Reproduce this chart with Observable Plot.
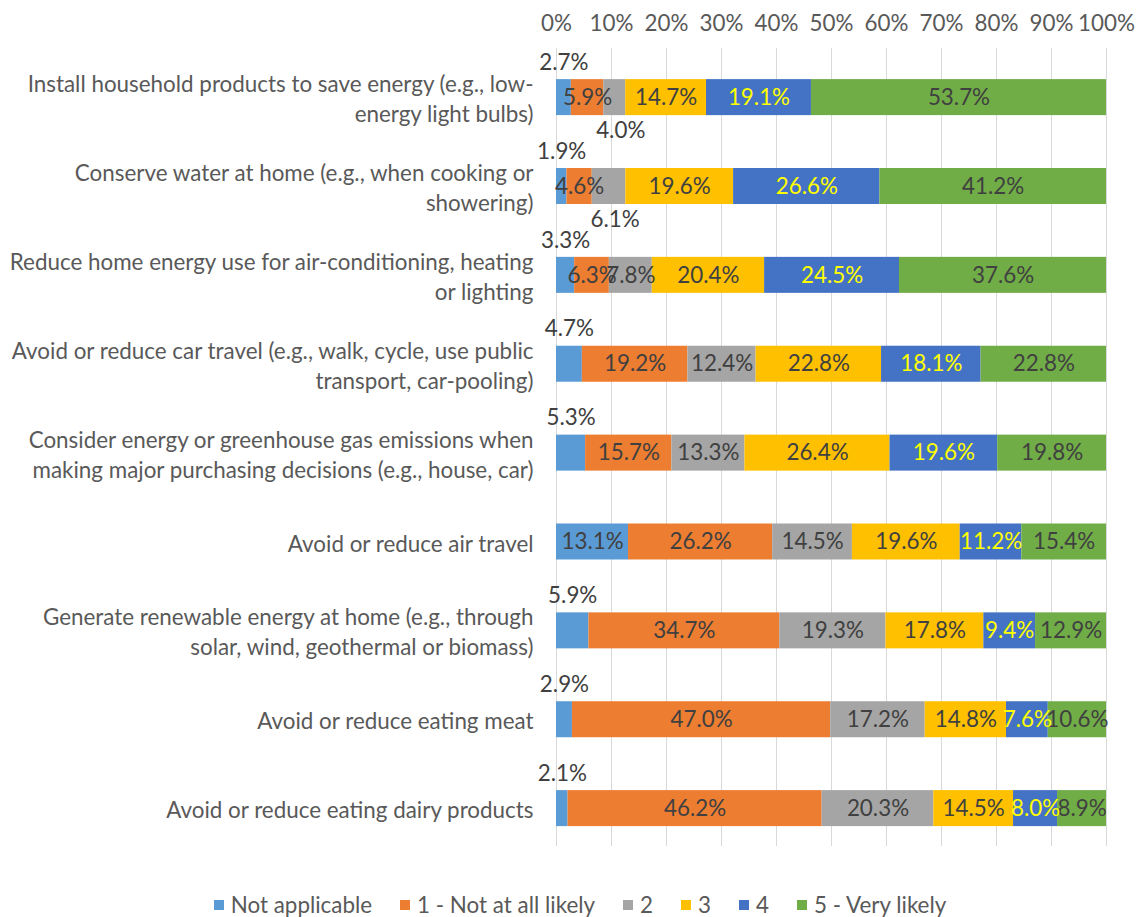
<!DOCTYPE html>
<html>
<head>
<meta charset="utf-8">
<script src="https://cdn.jsdelivr.net/npm/d3@7"></script>
<script src="https://cdn.jsdelivr.net/npm/@observablehq/plot@0.6"></script>
<style>
  body { margin: 0; background: #fff; }
  #chart svg { display: block; }
  #legend { display: flex; justify-content: center; gap: 28px; font-family: Lato, sans-serif; font-size: 22.4px; color: #595959; margin-top: 19px; padding-left: 14px; }
  #legend .item { display: flex; align-items: center; }
  #legend .sw { width: 10px; height: 10px; margin-right: 7px; display: inline-block; }
</style>
</head>
<body>
<div id="chart"></div>
<div id="legend"></div>
<script>
const categories = [
  "Install household products to save energy (e.g., low-energy light bulbs)",
  "Conserve water at home (e.g., when cooking or showering)",
  "Reduce home energy use for air-conditioning, heating or lighting",
  "Avoid or reduce car travel (e.g., walk, cycle, use public transport, car-pooling)",
  "Consider energy or greenhouse gas emissions when making major purchasing decisions (e.g., house, car)",
  "Avoid or reduce air travel",
  "Generate renewable energy at home (e.g., through solar, wind, geothermal or biomass)",
  "Avoid or reduce eating meat",
  "Avoid or reduce eating dairy products"
];
const categoryLabels = [
  "Install household products to save energy (e.g., low-\nenergy light bulbs)",
  "Conserve water at home (e.g., when cooking or\nshowering)",
  "Reduce home energy use for air-conditioning, heating\nor lighting",
  "Avoid or reduce car travel (e.g., walk, cycle, use public\ntransport, car-pooling)",
  "Consider energy or greenhouse gas emissions when\nmaking major purchasing decisions (e.g., house, car)",
  "Avoid or reduce air travel",
  "Generate renewable energy at home (e.g., through\nsolar, wind, geothermal or biomass)",
  "Avoid or reduce eating meat",
  "Avoid or reduce eating dairy products"
];
const seriesNames = ["Not applicable", "1 - Not at all likely", "2", "3", "4", "5 - Very likely"];
const seriesColors = ["#5B9BD5", "#ED7D31", "#A5A5A5", "#FFC000", "#4472C4", "#70AD47"];

const notApplicable = [2.7, 1.9, 3.3, 4.7, 5.3, 13.1, 5.9, 2.9, 2.1];
const notAtAllLikely = [5.9, 4.6, 6.3, 19.2, 15.7, 26.2, 34.7, 47.0, 46.2];
const likely2 = [4.0, 6.1, 7.8, 12.4, 13.3, 14.5, 19.3, 17.2, 20.3];
const likely3 = [14.7, 19.6, 20.4, 22.8, 26.4, 19.6, 17.8, 14.8, 14.5];
const likely4 = [19.1, 26.6, 24.5, 18.1, 19.6, 11.2, 9.4, 7.6, 8.0];
const veryLikely = [53.7, 41.2, 37.6, 22.8, 19.8, 15.4, 12.9, 10.6, 8.9];
const xTicks = [0, 0.1, 0.2, 0.3, 0.4, 0.5, 0.6, 0.7, 0.8, 0.9, 1];

const seriesValues = [notApplicable, notAtAllLikely, likely2, likely3, likely4, veryLikely];
const rows = categories.flatMap((c, i) =>
  seriesValues.map((vals, j) => ({category: c, series: seriesNames[j], value: vals[i]})));

const fmt = v => v.toFixed(1) + "%";
const placement = d =>
  (d.series === "Not applicable" && d.value < 6) ? "above" :
  (d.series === "2" && d.value < 7) ? "below" : "inside";

const stackOpts = extra => Plot.stackX({
  x: "value", y: "category", z: "series", order: seriesNames, offset: "normalize", ...extra
});

const chart = Plot.plot({
  width: 1146,
  height: 872,
  marginLeft: 556,
  marginRight: 40,
  marginTop: 48,
  marginBottom: 26,
  style: {fontFamily: "Lato, sans-serif", fontSize: "22.4px", color: "#595959", background: "#fff"},
  x: {domain: [0, 1], axis: "top", ticks: xTicks, tickFormat: d3.format(".0%"), tickSize: 0, tickPadding: 18, label: null},
  y: {domain: categories, axis: null, paddingInner: 0.595, paddingOuter: 0.287, align: 0.61, round: false},
  color: {domain: seriesNames, range: seriesColors},
  marks: [
    Plot.ruleX(xTicks, {stroke: "#d9d9d9", strokeWidth: 1}),
    Plot.barX(rows, stackOpts({fill: "series"})),
    Plot.text(rows, stackOpts({
      text: d => placement(d) === "inside" && d.series !== "4" ? fmt(d.value) : null,
      fill: "#404040"
    })),
    Plot.text(rows, stackOpts({
      text: d => placement(d) === "inside" && d.series === "4" ? fmt(d.value) : null,
      fill: "#FFFF00"
    })),
    Plot.text(rows, stackOpts({
      text: d => placement(d) === "above" ? fmt(d.value) : null,
      fill: "#404040", dy: -35
    })),
    Plot.text(rows, stackOpts({
      text: d => placement(d) === "below" ? fmt(d.value) : null,
      fill: "#404040", dy: 33, dx: 6
    })),
    Plot.text(categories, {
      y: d => d, text: (d, i) => categoryLabels[i],
      frameAnchor: "left", textAnchor: "end", dx: -23, lineHeight: 1.34,
      fill: "#595959", ariaLabel: "category-labels"
    })
  ]
});

document.getElementById("chart").append(chart);

// center multi-line category labels within their right-aligned block (as in the reference)
chart.querySelectorAll('g[aria-label="category-labels"] text').forEach(t => {
  const spans = [...t.querySelectorAll("tspan")];
  if (spans.length < 2) return;
  const w = Math.max(...spans.map(s => s.getComputedTextLength()));
  t.setAttribute("text-anchor", "middle");
  spans.forEach(s => s.setAttribute("x", -w / 2));
});

const legend = document.getElementById("legend");
seriesNames.forEach((name, i) => {
  const item = document.createElement("div");
  item.className = "item";
  const sw = document.createElement("span");
  sw.className = "sw";
  sw.style.background = seriesColors[i];
  item.append(sw, document.createTextNode(name));
  legend.append(item);
});
</script>
</body>
</html>
